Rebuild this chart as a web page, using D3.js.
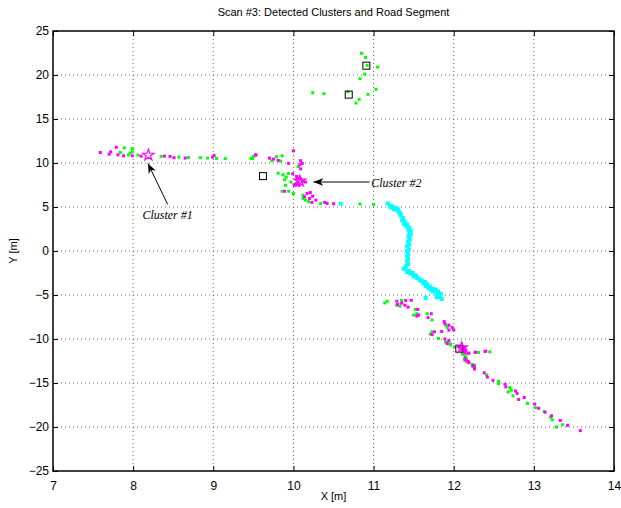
<!DOCTYPE html>
<html><head><meta charset="utf-8">
<script src="https://cdn.jsdelivr.net/npm/d3@7"></script>
<style>body{margin:0;background:#fff}svg{display:block}</style>
</head><body>
<script>
const title = "Scan #3: Detected Clusters and Road Segment";
const xLabel = "X [m]", yLabel = "Y [m]";
const xTicks = [7,8,9,10,11,12,13,14];
const yTicks = [-25,-20,-15,-10,-5,0,5,10,15,20,25];

// green points (x,y)
const greenPts = [
[7.89,11.72],[7.99,11.64],[7.99,11.27],[7.84,11.19],[7.94,10.90],[7.96,11.12],[8.06,10.90],[8.35,10.75],[8.57,10.67],[8.69,10.63],[8.84,10.60],[8.93,10.56],[9.04,10.52],[9.15,10.49],[9.47,10.52],[9.50,10.75],
[9.49,10.52],[9.79,10.71],[9.73,10.26],[9.84,10.22],[9.86,10.82],[10.06,9.59],[9.81,8.84],[9.87,8.66],[9.94,8.81],[9.91,8.40],[9.89,8.10],[9.97,7.84],[9.90,7.46],[9.86,6.79],[9.94,6.79],[10.0,6.53],[10.12,6.34],[10.12,5.97],[10.15,5.78],[10.19,5.60],[10.34,5.41],[10.83,5.34],[11.0,5.30],
[10.85,22.46],[10.90,22.0],[10.92,21.1],[11.05,20.9],[10.89,20.11],[10.83,19.58],[10.24,17.99],[10.38,17.88],[10.68,18.1],[11.03,18.37],[10.93,17.80],[10.82,17.23],[10.78,16.82],
[11.14,-5.90],[11.17,-5.71],[11.35,-5.63],[11.29,-6.16],[11.33,-6.27],[11.52,-6.64],[11.50,-7.28],[11.54,-7.13],[11.67,-7.13],[11.73,-7.84],[11.90,-8.43],[11.92,-8.69],[11.73,-9.18],[11.71,-9.44],[11.81,-9.93],[11.91,-10.37],[11.96,-10.56],[12.01,-10.93],[12.125,-11.60],[12.31,-11.53],[12.15,-12.05],[12.17,-12.61],[12.24,-13.17],
[11.90,-10.34],[11.96,-10.67],[12.11,-11.72],[12.14,-11.90],[12.16,-12.28],[12.16,-12.54],[12.45,-11.46],[12.23,-12.91],[12.26,-13.02],[12.41,-14.07],[12.56,-14.81],[12.56,-15.07],[12.70,-15.52],[12.68,-16.01],[12.72,-15.82],[12.74,-16.46],[12.92,-17.31],[13.02,-17.80],[13.13,-18.25],[13.21,-18.88],[13.23,-19.18],[13.28,-20.0],[13.36,-19.74]
];

// magenta points (x,y)
const magentaPts = [
[7.59,11.19],[7.70,11.0],[7.72,11.27],[7.79,11.79],[7.81,10.93],[7.88,10.82],[7.99,10.82],[8.10,10.78],[8.39,10.78],[8.46,10.75],[8.51,10.60],[8.65,10.56],[8.99,10.67],[9.01,10.86],[9.53,10.93],
[9.53,10.90],[9.70,10.56],[9.75,10.45],[9.81,10.30],[10.0,11.38],[9.94,9.96],[10.09,10.26],[10.11,9.96],[10.08,9.81],[10.09,9.33],[9.99,8.77],[10.04,8.47],[10.05,8.21],[10.09,8.21],[10.06,7.84],[10.11,7.91],[10.15,7.84],[9.89,6.79],[10.01,7.46],[10.03,7.65],[10.07,7.46],[10.17,6.53],[10.21,6.64],[10.24,6.23],[10.14,6.16],[10.20,5.97],[10.23,5.52],[10.28,5.78],[10.39,5.52],[10.42,5.41],[10.50,5.37],
[11.29,-5.71],[11.40,-5.63],[11.47,-5.60],[11.30,-6.08],[11.35,-5.93],[11.39,-6.16],[11.43,-6.38],[11.55,-6.64],[11.56,-7.28],[11.54,-7.39],[11.72,-7.13],[11.68,-7.57],[11.88,-8.02],[11.89,-8.25],[11.94,-8.43],[11.98,-8.69],[12.0,-8.96],[11.94,-8.99],[11.76,-9.18],[11.85,-9.14],[11.73,-9.51],[11.89,-10.0],[11.94,-10.19],[12.075,-10.86],[12.125,-11.12],[12.10,-11.23],[12.15,-11.31],[12.19,-11.60],[12.27,-11.49],[12.40,-11.38],[12.14,-12.24],[12.18,-12.54],[12.25,-12.99],[12.26,-13.36],
[11.92,-10.52],[12.08,-10.9],[12.11,-11.04],[12.14,-10.97],[12.12,-11.34],[12.14,-11.53],[12.18,-11.64],[12.14,-12.39],[12.19,-12.69],[12.27,-11.53],[12.39,-11.42],[12.24,-13.02],[12.26,-13.40],[12.38,-13.84],[12.42,-14.33],[12.49,-14.70],[12.64,-15.15],[12.65,-15.45],[12.77,-15.90],[12.79,-16.19],[12.81,-16.87],[12.88,-16.64],[13.01,-17.39],[13.06,-17.87],[13.14,-18.32],[13.22,-18.73],[13.33,-19.25],[13.42,-19.81],[13.58,-20.41]
];

// cyan road segment points
const roadPts = [
[10.59,5.37],
[11.175,5.40],[11.203,5.15],[11.236,5.07],[11.264,4.93],[11.297,4.78],[11.317,4.41],[11.337,4.04],[11.358,3.49],[11.378,3.13],[11.398,2.94],[11.419,2.76],[11.439,2.39],[11.447,2.02],[11.439,1.65],[11.431,1.10],[11.419,0.55],[11.419,0.0],[11.419,-0.55],[11.419,-1.10],[11.407,-1.65],[11.378,-2.02],[11.419,-2.39],[11.459,-2.57],[11.500,-2.87],[11.541,-3.05],[11.581,-3.31],[11.622,-3.68],[11.650,-3.97],[11.683,-4.23],[11.715,-4.41],[11.744,-4.60],[11.785,-4.96],[11.825,-5.22],
[11.215,4.96],[11.256,4.71],[11.309,4.60],[11.337,4.23],[11.366,3.75],[11.390,3.31],[11.419,3.01],[11.447,2.65],[11.463,2.28],[11.463,1.84],[11.451,1.29],[11.443,0.74],[11.439,0.18],[11.431,-0.37],[11.431,-0.92],[11.431,-1.47],[11.398,-1.91],[11.447,-2.28],[11.488,-2.50],[11.528,-2.79],[11.561,-3.13],[11.602,-3.38],[11.642,-3.53],[11.667,-3.79],[11.703,-4.04],[11.744,-4.30],[11.772,-4.41],[11.805,-4.60],[11.837,-4.85],[11.650,-5.33],[11.79,-5.26],[11.85,-5.45]
];

// cluster centres (black squares) and stars
const squarePts = [[9.62,8.51],[10.91,21.06],[10.69,17.77],[12.07,-11.1]];
const starPts = [[8.19,10.90],[10.08,7.95],[12.1,-11.0]];

// annotations
const annotations = [
  {text:"Cluster #1", tx:8.43, ty:3.9, anchor:"middle", x1:8.43, y1:5.3, x2:8.185, y2:9.95},
  {text:"Cluster #2", tx:10.97, ty:7.55, anchor:"start", x1:10.95, y1:7.84, x2:10.25, y2:7.84}
];

const W = 621, H = 508;
const m = {left:53, top:31, right:614, bottom:471};
const svg = d3.select("body").append("svg").attr("width",W).attr("height",H)
  .style("font-family","'Liberation Sans', Arial, Helvetica, sans-serif");
svg.append("rect").attr("width",W).attr("height",H).attr("fill","#fff");

const x = d3.scaleLinear().domain([7,14]).range([m.left,m.right]);
const y = d3.scaleLinear().domain([-25,25]).range([m.bottom,m.top]);

// grid
const grid = svg.append("g").attr("stroke","#444").attr("stroke-width",0.8).attr("stroke-dasharray","1,3");
grid.selectAll(".gx").data(xTicks.slice(1,-1)).join("line")
  .attr("x1",d=>x(d)).attr("x2",d=>x(d)).attr("y1",m.top).attr("y2",m.bottom);
grid.selectAll(".gy").data(yTicks.slice(1,-1)).join("line")
  .attr("y1",d=>y(d)).attr("y2",d=>y(d)).attr("x1",m.left).attr("x2",m.right);

// axes
const tl = 5;
const axB = svg.append("g").attr("transform",`translate(0,${m.bottom})`)
  .call(d3.axisBottom(x).tickValues(xTicks).tickSize(-tl).tickPadding(10).tickFormat(d3.format("d")));
const axT = svg.append("g").attr("transform",`translate(0,${m.top})`)
  .call(d3.axisTop(x).tickValues(xTicks).tickSize(-tl).tickFormat(""));
const axL = svg.append("g").attr("transform",`translate(${m.left},0)`)
  .call(d3.axisLeft(y).tickValues(yTicks).tickSize(-tl).tickPadding(4).tickFormat(d=>d<0?"\u2212"+(-d):d));
const axR = svg.append("g").attr("transform",`translate(${m.right},0)`)
  .call(d3.axisRight(y).tickValues(yTicks).tickSize(-tl).tickFormat(""));
[axB,axT,axL,axR].forEach(g=>{
  g.select(".domain").remove();
  g.selectAll("line").attr("stroke","#000");
  g.selectAll("text").attr("font-size",12).attr("fill","#000").attr("font-family","'Liberation Sans', Arial, sans-serif");
});

// points
const pts = svg.append("g");
pts.selectAll(".r").data(roadPts).join("rect")
  .attr("x",d=>x(d[0])-2).attr("y",d=>y(d[1])-2).attr("width",4).attr("height",4).attr("fill","#00ffff");
pts.selectAll(".g").data(greenPts).join("rect")
  .attr("x",d=>x(d[0])-1.5).attr("y",d=>y(d[1])-1.5).attr("width",3).attr("height",3).attr("fill","#00ff00");
pts.selectAll(".mg").data(magentaPts).join("rect")
  .attr("x",d=>x(d[0])-1.5).attr("y",d=>y(d[1])-1.5).attr("width",3).attr("height",3).attr("fill","#ff00ff");

// squares
svg.append("g").selectAll("rect").data(squarePts).join("rect")
  .attr("x",d=>x(d[0])-3.5).attr("y",d=>y(d[1])-3.5).attr("width",7).attr("height",7)
  .attr("fill","none").attr("stroke","#000").attr("stroke-width",1);

// stars (pentagram)
const star = d3.symbol().type(d3.symbolStar).size(40);
svg.append("g").selectAll("path").data(starPts).join("path")
  .attr("d",star).attr("transform",d=>`translate(${x(d[0])},${y(d[1])})`)
  .attr("fill","none").attr("stroke","#ff00ff").attr("stroke-width",1.2);

// box
svg.append("rect").attr("x",m.left).attr("y",m.top).attr("width",m.right-m.left).attr("height",m.bottom-m.top)
  .attr("fill","none").attr("stroke","#000").attr("stroke-width",1.5);

// annotations
svg.append("defs").append("marker").attr("id","ah").attr("viewBox","0 0 10 10")
  .attr("refX",10).attr("refY",5).attr("markerWidth",10).attr("markerHeight",10).attr("markerUnits","userSpaceOnUse")
  .attr("orient","auto").append("path").attr("d","M0,1 L10,5 L0,9 L3,5 Z").attr("fill","#000");
const an = svg.append("g");
an.selectAll("line").data(annotations).join("line")
  .attr("x1",d=>x(d.x1)).attr("y1",d=>y(d.y1)).attr("x2",d=>x(d.x2)).attr("y2",d=>y(d.y2))
  .attr("stroke","#000").attr("stroke-width",1).attr("marker-end","url(#ah)");
an.selectAll("text").data(annotations).join("text")
  .attr("x",d=>x(d.tx)).attr("y",d=>y(d.ty)).attr("text-anchor",d=>d.anchor).attr("dominant-baseline","middle")
  .attr("font-family","'Liberation Serif', 'Times New Roman', serif").attr("font-style","italic").attr("font-size",12)
  .text(d=>d.text);

// titles
svg.append("text").attr("x",(m.left+m.right)/2).attr("y",16).attr("text-anchor","middle")
  .attr("font-size",11).text(title);
svg.append("text").attr("x",(m.left+m.right)/2).attr("y",500).attr("text-anchor","middle")
  .attr("font-size",11).text(xLabel);
svg.append("text").attr("transform",`translate(17,${(m.top+m.bottom)/2}) rotate(-90)`).attr("text-anchor","middle")
  .attr("font-size",11).text(yLabel);
</script>
</body></html>
